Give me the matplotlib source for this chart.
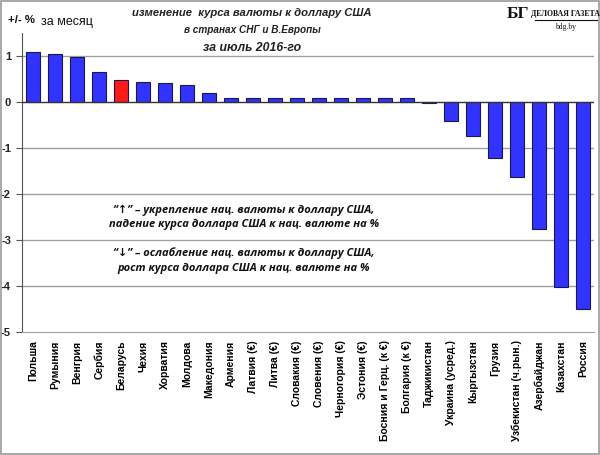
import matplotlib
matplotlib.use("Agg")
import matplotlib.pyplot as plt
from matplotlib.patches import Rectangle

countries = ["Польша", "Румыния", "Венгрия", "Сербия", "Беларусь", "Чехия",
             "Хорватия", "Молдова", "Македония", "Армения", "Латвия (€)",
             "Литва (€)", "Словакия (€)", "Словения (€)", "Черногория (€)",
             "Эстония (€)", "Босния и Герц. (к €)", "Болгария (к €)",
             "Таджикистан", "Украина (усред.)", "Кыргызстан", "Грузия",
             "Узбекистан (ч.рын.)", "Азербайджан", "Казахстан", "Россия"]
values = [1.09, 1.04, 0.99, 0.65, 0.48, 0.44, 0.42, 0.37, 0.21, 0.10, 0.09,
          0.09, 0.09, 0.09, 0.09, 0.09, 0.09, 0.09, -0.02, -0.41, -0.74,
          -1.21, -1.62, -2.75, -4.02, -4.49]
highlight = "Беларусь"
yticks = [1, 0, -1, -2, -3, -4, -5]

fig = plt.figure(figsize=(6.0, 4.55), dpi=100)
ax = fig.add_axes([0.037, 0.27, 0.953, 0.657])

colors = ["#ff1a1a" if c == highlight else "#3333ff" for c in countries]
x = list(range(len(countries)))
ax.bar(x, values, width=0.64, color=colors, edgecolor="#1a1a4a", linewidth=0.8, zorder=3)

ax.set_xlim(-0.5, len(countries) - 0.5)
ax.set_ylim(-5, 1.5)
ax.set_yticks(yticks)
ax.set_yticklabels([str(t) for t in yticks], fontsize=8, fontweight="bold",
                   family="Liberation Sans", color="#222222")
for t in yticks:
    if t not in (0, -5):
        ax.axhline(t, color="#a0a0a0", linewidth=1.0, zorder=1)
ax.axhline(0, color="#333333", linewidth=1.0, zorder=4)

ax.set_xticks(x)
ax.set_xticklabels(countries, rotation=90, fontsize=7.5, fontweight="bold",
                   family="Liberation Sans", va="top")
ax.tick_params(axis="x", length=0, pad=6)
ax.tick_params(axis="y", length=4, direction="out", pad=4, color="#555555")

for s in ["top", "right"]:
    ax.spines[s].set_visible(False)
ax.spines["left"].set_color("#555555")
ax.spines["bottom"].set_color("#a0a0a0")

# Titles
tkw = dict(ha="center", va="center", fontweight="bold", style="italic",
           family=["Liberation Sans", "DejaVu Sans"], color="#222222")
fig.text(0.42, 0.972, "изменение  курса валюты к доллару США", fontsize=8.1, **tkw)
fig.text(0.42, 0.935, "в странах СНГ и В.Европы", fontsize=7.2, **tkw)
fig.text(0.42, 0.895, "за июль 2016-го", fontsize=8.8, **tkw)

fig.text(0.013, 0.955, "+/- %", ha="left", va="center", fontsize=8.2,
         fontweight="bold", family="Liberation Sans", color="#111111")
fig.text(0.068, 0.952, "за месяц", ha="left", va="center", fontsize=9.0,
         family="Liberation Sans", color="#111111")

# Logo
fig.text(0.864, 0.970, "БГ", ha="center", va="center", fontsize=12.5, fontweight="bold",
         family="Liberation Serif", color="#111111")
fig.text(0.943, 0.970, "ДЕЛОВАЯ ГАЗЕТА", ha="center", va="center", fontsize=5.6,
         fontweight="bold", family="Liberation Serif", color="#111111")
fig.add_artist(plt.Line2D([0.892, 0.995], [0.955, 0.955], color="#111111", linewidth=0.8))
fig.text(0.943, 0.940, "bdg.by", ha="center", va="center", fontsize=5.5,
         family="Liberation Serif", color="#111111")

# Annotation
ann = dict(ha="center", va="center", fontsize=8.0, fontweight="bold", style="italic",
           family=["Open Sans", "DejaVu Sans"], color="#111111")
fig.text(0.406, 0.538, "“↑” – укрепление нац. валюты к доллару США,", **ann)
fig.text(0.406, 0.507, "падение курса доллара США к нац. валюте на %", **ann)
fig.text(0.406, 0.444, "“↓” – ослабление нац. валюты к доллару США,", **ann)
fig.text(0.406, 0.411, "рост курса доллара США к нац. валюте на %", **ann)

fig.add_artist(Rectangle((0.001, 0.002), 0.997, 0.995, transform=fig.transFigure,
                         fill=False, edgecolor="#999999", linewidth=1.2))

fig.savefig("out.png", dpi=100)
